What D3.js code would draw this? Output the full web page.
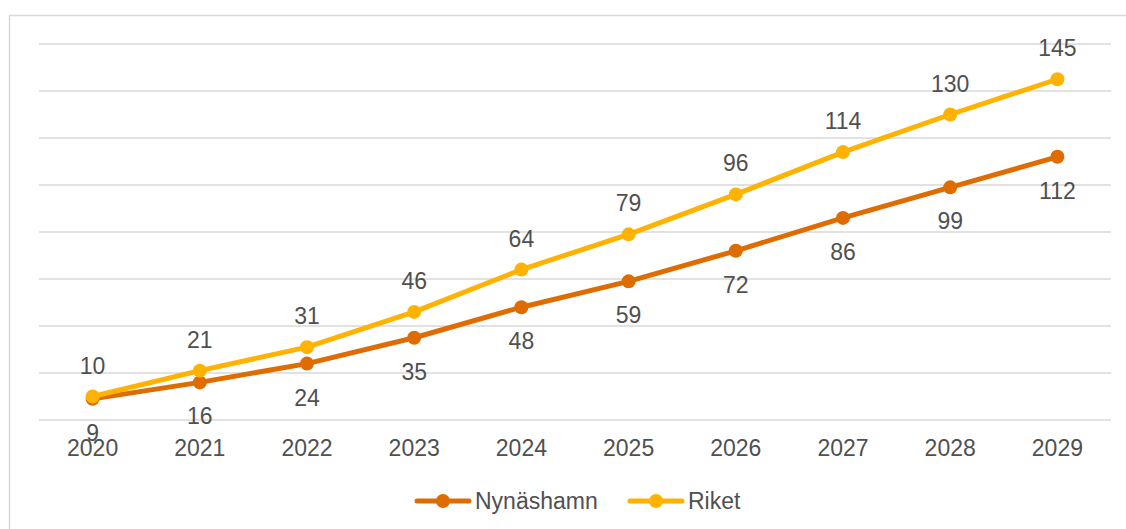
<!DOCTYPE html>
<html>
<head>
<meta charset="utf-8">
<script src="https://cdn.jsdelivr.net/npm/d3@7"></script>
<style>
  body { margin: 0; background: #fff; }
  text { font-family: "Liberation Sans", Arial, sans-serif; fill: #505050; }
</style>
</head>
<body>
<div id="chart"></div>
<script>
var years = ['2020', '2021', '2022', '2023', '2024', '2025', '2026', '2027', '2028', '2029'];
var nynashamn = [9, 16, 24, 35, 48, 59, 72, 86, 99, 112];
var riket = [10, 21, 31, 46, 64, 79, 96, 114, 130, 145];
var yTicks = [0, 20, 40, 60, 80, 100, 120, 140, 160];

var width = 1126,
    height = 529;

var svg = d3.select('#chart')
    .append('svg')
    .attr('width', width)
    .attr('height', height);

// outer frame (top and left edges visible)
svg.append('path')
    .attr('d', 'M9.5,' + height + 'V15.5H' + width)
    .attr('fill', 'none')
    .attr('stroke', '#d9d9d9')
    .attr('stroke-width', 1.5);

var x = d3.scaleBand().domain(years).range([39, 1111]);
var y = d3.scaleLinear().domain([0, 160]).range([420, 44]);

svg.append('g')
    .selectAll('line')
    .data(yTicks)
    .enter()
    .append('line')
    .attr('x1', 39)
    .attr('x2', 1111)
    .attr('y1', function (d) { return y(d); })
    .attr('y2', function (d) { return y(d); })
    .attr('stroke', '#d9d9d9')
    .attr('stroke-width', 1.5);

var xAxis = svg.append('g')
    .attr('transform', 'translate(0,420)')
    .call(d3.axisBottom(x).tickSize(0).tickPadding(20));
xAxis.select('.domain').remove();
xAxis.selectAll('text')
    .style('font-size', '23px')
    .attr('fill', '#505050');

var series = [
    { name: 'Nynäshamn', values: nynashamn, color: '#DE6C00', dy: 34 },
    { name: 'Riket', values: riket, color: '#FFB300', dy: -31 }
];

var line = d3.line()
    .x(function (d, i) { return x(years[i]) + x.bandwidth() / 2; })
    .y(function (d) { return y(d); });

series.forEach(function (s) {
    var g = svg.append('g');
    g.append('path')
        .datum(s.values)
        .attr('d', line)
        .attr('fill', 'none')
        .attr('stroke', s.color)
        .attr('stroke-width', 5)
        .attr('stroke-linejoin', 'round');
    g.selectAll('circle')
        .data(s.values)
        .enter()
        .append('circle')
        .attr('cx', function (d, i) { return x(years[i]) + x.bandwidth() / 2; })
        .attr('cy', function (d) { return y(d); })
        .attr('r', 7)
        .attr('fill', s.color);
});

series.forEach(function (s) {
    svg.append('g')
        .selectAll('text')
        .data(s.values)
        .enter()
        .append('text')
        .attr('x', function (d, i) { return x(years[i]) + x.bandwidth() / 2; })
        .attr('y', function (d) { return y(d) + s.dy; })
        .attr('dy', '0.35em')
        .attr('text-anchor', 'middle')
        .style('font-size', '23px')
        .text(function (d) { return d; });
});

// legend
var legend = svg.append('g')
    .selectAll('g')
    .data(series)
    .enter()
    .append('g')
    .attr('transform', function (d, i) { return 'translate(' + [417, 630][i] + ',501)'; });

legend.append('line')
    .attr('x1', 0)
    .attr('x2', 52)
    .attr('stroke', function (d) { return d.color; })
    .attr('stroke-width', 5)
    .attr('stroke-linecap', 'round');
legend.append('circle')
    .attr('cx', 26)
    .attr('r', 7)
    .attr('fill', function (d) { return d.color; });
legend.append('text')
    .attr('x', 58)
    .attr('dy', '0.35em')
    .style('font-size', '23px')
    .text(function (d) { return d.name; });
</script>
</body>
</html>
